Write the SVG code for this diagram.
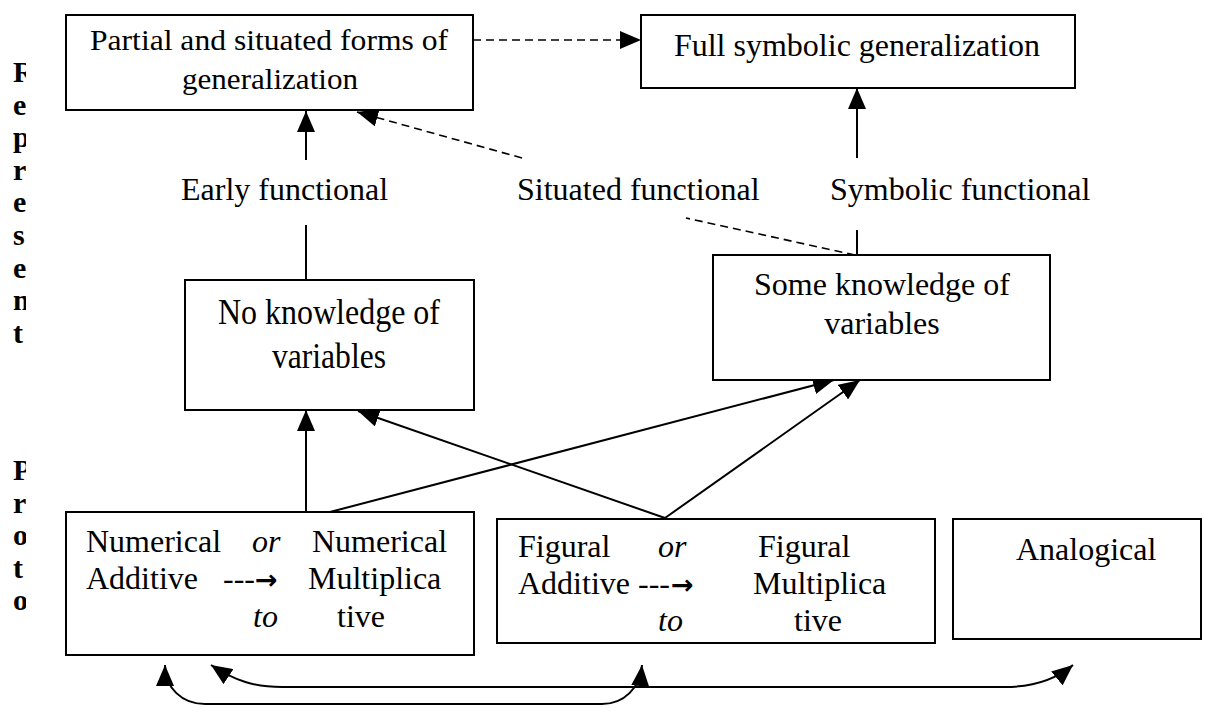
<svg xmlns="http://www.w3.org/2000/svg" width="1205" height="716" viewBox="0 0 1205 716">
  <defs>
    <style>
      .box { fill: #fff; stroke: #000; stroke-width: 2; }
      .t { font-family: "Liberation Serif", "Times New Roman", serif; font-size: 32px; fill: #000; }
      .i { font-style: italic; }
      .arw { font-family: "DejaVu Sans", sans-serif; font-weight: bold; font-size: 27px; fill: #000; }
      .side { font-family: "Liberation Serif", "Times New Roman", serif; font-size: 30px; font-weight: bold; fill: #000; }
      .ln { fill: none; stroke: #000; stroke-width: 2; }
      .dash { fill: none; stroke: #000; stroke-width: 1.6; stroke-dasharray: 8 5; }
    </style>
    <marker id="ah" viewBox="0 0 21 18" refX="21" refY="9" markerWidth="21" markerHeight="18" markerUnits="userSpaceOnUse" orient="auto-start-reverse">
      <path d="M0,0 L21,9 L0,18 z" fill="#000"/>
    </marker>
    <clipPath id="margin">
      <rect x="0" y="0" width="26" height="716"/>
    </clipPath>
  </defs>

  <rect width="1205" height="716" fill="#fff"/>

  <!-- vertical side headings, cut off at the page margin -->
  <g id="side-labels" clip-path="url(#margin)" class="side">
    <text x="13" y="82">R</text>
    <text x="13" y="114.6">e</text>
    <text x="13" y="147.2">p</text>
    <text x="13" y="179.8">r</text>
    <text x="13" y="212.4">e</text>
    <text x="13" y="245">s</text>
    <text x="13" y="277.6">e</text>
    <text x="13" y="310.2">n</text>
    <text x="13" y="342.8">t</text>
    <text x="13" y="480">P</text>
    <text x="13" y="512.6">r</text>
    <text x="13" y="545.2">o</text>
    <text x="13" y="577.8">t</text>
    <text x="13" y="610.4">o</text>
  </g>

  <!-- connectors -->
  <g id="connectors">
    <path class="dash" d="M473,40 L641,40" marker-end="url(#ah)"/>
    <path class="ln" d="M306,160 L306,111" marker-end="url(#ah)"/>
    <path class="ln" d="M306,225 L306,280"/>
    <path class="ln" d="M857,158 L857,88" marker-end="url(#ah)"/>
    <path class="ln" d="M857,230 L857,255"/>
    <path class="dash" d="M855,255 L686,218 M522,158 L357,112" marker-end="url(#ah)"/>
    <path class="ln" d="M306,512 L306,410" marker-end="url(#ah)"/>
    <path class="ln" d="M665,518 L358,411" marker-end="url(#ah)"/>
    <path class="ln" d="M330,512 L834,380" marker-end="url(#ah)"/>
    <path class="ln" d="M665,518 L860,380" marker-end="url(#ah)"/>
    <path class="ln" d="M165,665 C165,688 182,704 205,704 L602,704 C624,704 640,688 642,665" marker-start="url(#ah)" marker-end="url(#ah)"/>
    <path class="ln" d="M211,665 C235,681 255,687 282,687 L1005,687 C1030,687 1055,680 1073,665" marker-start="url(#ah)" marker-end="url(#ah)"/>
  </g>

  <!-- labels on the functional links -->
  <g id="link-labels">
    <text class="t" x="181" y="200">Early functional</text>
    <text class="t" x="517" y="200">Situated functional</text>
    <text class="t" x="830" y="200">Symbolic functional</text>
  </g>

  <g id="partial">
    <rect class="box" x="66" y="15" width="407" height="95"/>
    <text class="t" x="90" y="50" style="font-size:29px" textLength="358" lengthAdjust="spacingAndGlyphs">Partial and situated forms of</text>
    <text class="t" x="182" y="89" style="font-size:29px" textLength="176" lengthAdjust="spacingAndGlyphs">generalization</text>
  </g>

  <g id="full-symbolic">
    <rect class="box" x="641" y="15" width="434" height="73"/>
    <text class="t" x="857" y="56" text-anchor="middle">Full symbolic generalization</text>
  </g>

  <g id="no-knowledge">
    <rect class="box" x="185" y="280" width="289" height="130"/>
    <text class="t" x="329" y="324" text-anchor="middle" style="font-size:36px" textLength="222" lengthAdjust="spacingAndGlyphs">No knowledge of</text>
    <text class="t" x="329" y="368" text-anchor="middle" style="font-size:36px" textLength="114" lengthAdjust="spacingAndGlyphs">variables</text>
  </g>

  <g id="some-knowledge">
    <rect class="box" x="713" y="255" width="337" height="125"/>
    <text class="t" x="882" y="295" text-anchor="middle">Some knowledge of</text>
    <text class="t" x="882" y="334" text-anchor="middle">variables</text>
  </g>

  <g id="numerical">
    <rect class="box" x="66" y="512" width="408" height="143"/>
    <text class="t" x="86" y="552">Numerical</text>
    <text class="t i" x="252" y="552">or</text>
    <text class="t" x="312" y="552">Numerical</text>
    <text class="t" x="86" y="589">Additive</text>
    <text class="t" x="223" y="589">---</text>
    <text class="arw" x="255" y="589">→</text>
    <text class="t" x="308" y="589">Multiplica</text>
    <text class="t i" x="253" y="627">to</text>
    <text class="t" x="337" y="627">tive</text>
  </g>

  <g id="figural">
    <rect class="box" x="497" y="519" width="438" height="124"/>
    <text class="t" x="518" y="557">Figural</text>
    <text class="t i" x="658" y="557">or</text>
    <text class="t" x="758" y="557">Figural</text>
    <text class="t" x="518" y="594">Additive</text>
    <text class="t" x="638" y="594">---</text>
    <text class="arw" x="671" y="594">→</text>
    <text class="t" x="753" y="594">Multiplica</text>
    <text class="t i" x="658" y="631">to</text>
    <text class="t" x="794" y="631">tive</text>
  </g>

  <g id="analogical">
    <rect class="box" x="953" y="519" width="248" height="120"/>
    <text class="t" x="1016" y="560">Analogical</text>
  </g>
</svg>
